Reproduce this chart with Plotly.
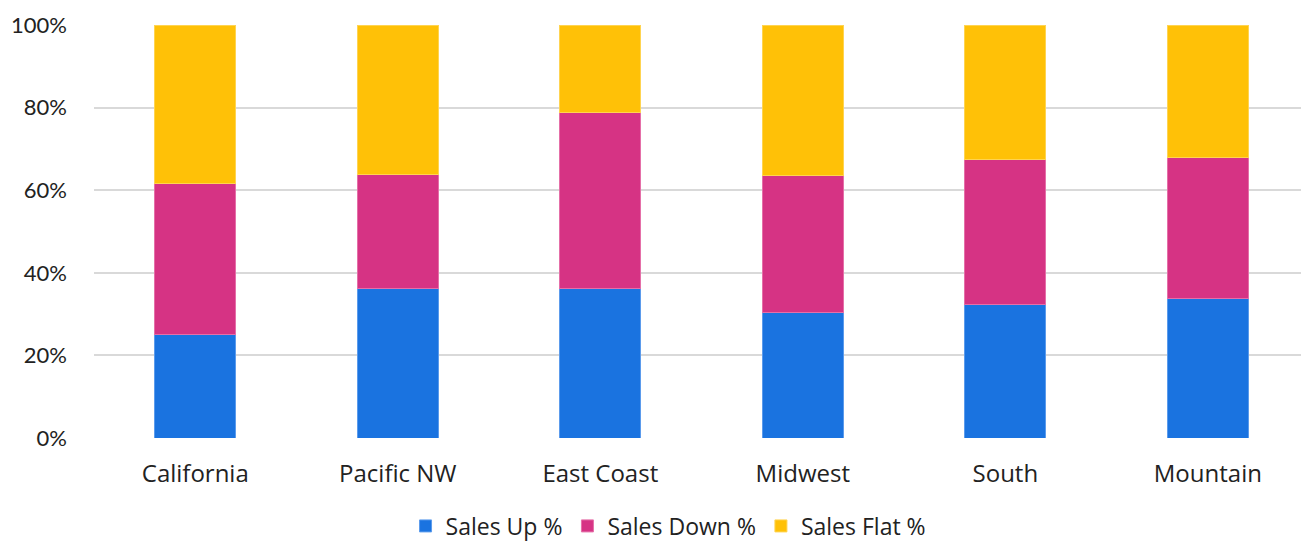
import plotly.graph_objects as go

regions = ["California", "Pacific NW", "East Coast", "Midwest", "South", "Mountain"]
sales_up = [0.250, 0.361, 0.361, 0.303, 0.324, 0.338]
sales_down = [0.366, 0.277, 0.426, 0.332, 0.351, 0.342]
sales_flat = [0.384, 0.362, 0.213, 0.365, 0.325, 0.320]
y_ticks = [0, 0.2, 0.4, 0.6, 0.8, 1.0]
y_tick_labels = ["0%", "20%", "40%", "60%", "80%", "100%"]

series = [
    ("Sales Up %", sales_up, "#1a73e0", "#5b9bec"),
    ("Sales Down %", sales_down, "#d63384", "#e56fa8"),
    ("Sales Flat %", sales_flat, "#ffc107", "#ffd451"),
]

FONT = "Open Sans"

fig = go.Figure()
for name, vals, col, edge in series:
    fig.add_trace(go.Bar(
        x=regions, y=vals, name=name,
        marker=dict(color=col, line=dict(color=edge, width=1)),
        width=0.4,
    ))

fig.update_layout(
    barmode="stack",
    width=1301, height=543,
    margin=dict(l=94, r=0, t=25, b=105, autoexpand=False),
    paper_bgcolor="white", plot_bgcolor="white",
    font=dict(family=FONT, size=24, color="#222222"),
    showlegend=True,
    legend=dict(
        orientation="h", x=0.476, xanchor="center", y=-0.213, yanchor="middle",
        font=dict(family=FONT, size=23, color="#222222"),
        itemwidth=30, traceorder="normal",
    ),
    xaxis=dict(
        range=[-0.5, 5.46], showgrid=False, zeroline=False, showline=False,
        automargin=False,
        ticks="outside", ticklen=14, tickcolor="rgba(0,0,0,0)",
        tickfont=dict(family=FONT, size=24, color="#222222"),
    ),
    yaxis=dict(
        range=[0, 1.0], tickvals=y_ticks, ticktext=y_tick_labels,
        showgrid=True, gridcolor="#d9d9d9", gridwidth=1.5,
        zeroline=False, showline=False, automargin=False,
        ticklabelstandoff=26,
        tickfont=dict(family="Lato", size=22, color="#222222"),
    ),
)

fig.write_html("out.html")
